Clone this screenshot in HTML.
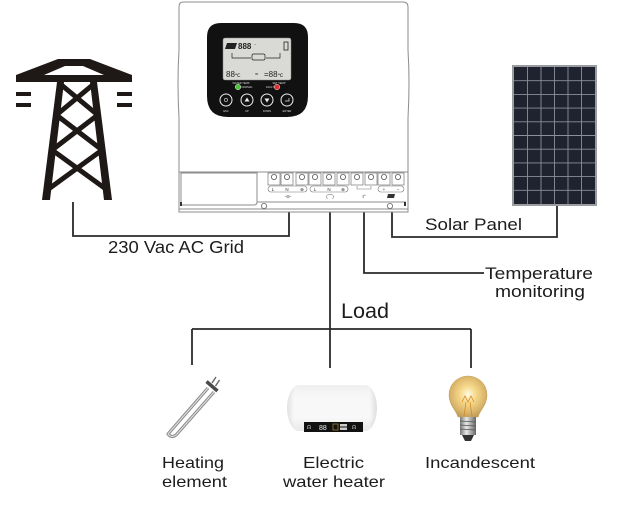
<!DOCTYPE html>
<html><head><meta charset="utf-8">
<style>
html,body{margin:0;padding:0;background:#fff;}
svg{display:block;}
text{font-family:"Liberation Sans",Arial,sans-serif;}
</style></head>
<body>
<svg width="633" height="516" viewBox="0 0 633 516" xmlns="http://www.w3.org/2000/svg">
<defs>
<radialGradient id="bulbG" cx="0.5" cy="0.45" r="0.6">
<stop offset="0" stop-color="#fffbe6"/>
<stop offset="0.35" stop-color="#f6d889"/>
<stop offset="0.75" stop-color="#d9b46a"/>
<stop offset="1" stop-color="#b89554"/>
</radialGradient>
<linearGradient id="baseG" x1="0" y1="0" x2="1" y2="0">
<stop offset="0" stop-color="#777"/>
<stop offset="0.4" stop-color="#e8e8e8"/>
<stop offset="1" stop-color="#666"/>
</linearGradient>
<linearGradient id="heatG" x1="0" y1="0" x2="0" y2="1">
<stop offset="0" stop-color="#e6e6e6"/>
<stop offset="0.25" stop-color="#fafafa"/>
<stop offset="0.7" stop-color="#ffffff"/>
<stop offset="1" stop-color="#d4d4d4"/>
</linearGradient>
<linearGradient id="heatH" x1="0" y1="0" x2="1" y2="0">
<stop offset="0" stop-color="#cfcfcf"/>
<stop offset="0.08" stop-color="#f5f5f5"/>
<stop offset="0.92" stop-color="#f5f5f5"/>
<stop offset="1" stop-color="#c8c8c8"/>
</linearGradient>
</defs>

<!-- ===== Tower ===== -->
<g fill="#1e1816">
<path fill-rule="evenodd" d="M58,59 L90,59 L132,75 L132,82 L16,82 L16,75 Z M65,66 L83,66 L104,75 L44,75 Z"/>
<polygon points="57,82 64,82 50,200 42,200"/>
<polygon points="90,82 97,82 112,200 104,200"/>
<rect x="16" y="92" width="15" height="4"/>
<rect x="16" y="103" width="15" height="4"/>
<rect x="117" y="92" width="15" height="4"/>
<rect x="117" y="103" width="15" height="4"/>
</g>
<g stroke="#1e1816" stroke-width="5" fill="none">
<line x1="60.3" y1="84" x2="97.7" y2="115"/>
<line x1="93.8" y1="84" x2="56.4" y2="115"/>
<line x1="56.4" y1="115" x2="102.1" y2="150"/>
<line x1="97.7" y1="115" x2="52.1" y2="150"/>
<line x1="52.1" y1="150" x2="107.2" y2="190"/>
<line x1="102.1" y1="150" x2="47.2" y2="190"/>
</g>

<!-- ===== Solar panel ===== -->
<rect x="512" y="65" width="85" height="141" fill="#9a9ca0"/>
<rect x="514" y="67" width="81" height="137" fill="#1f2330"/>
<g stroke="#8a8f9c" stroke-width="0.9">
<line x1="527.5" y1="67" x2="527.5" y2="204"/>
<line x1="541" y1="67" x2="541" y2="204"/>
<line x1="554.5" y1="67" x2="554.5" y2="204"/>
<line x1="568" y1="67" x2="568" y2="204"/>
<line x1="581.5" y1="67" x2="581.5" y2="204"/>
<line x1="514" y1="80.7" x2="595" y2="80.7"/>
<line x1="514" y1="94.4" x2="595" y2="94.4"/>
<line x1="514" y1="108.1" x2="595" y2="108.1"/>
<line x1="514" y1="121.8" x2="595" y2="121.8"/>
<line x1="514" y1="135.5" x2="595" y2="135.5"/>
<line x1="514" y1="149.2" x2="595" y2="149.2"/>
<line x1="514" y1="162.9" x2="595" y2="162.9"/>
<line x1="514" y1="176.6" x2="595" y2="176.6"/>
<line x1="514" y1="190.3" x2="595" y2="190.3"/>
</g>

<!-- ===== Connector lines ===== -->
<g stroke="#2a2a2a" stroke-width="1.8" fill="none">
<polyline points="73,202 73,236 289,236 289,212"/>
<line x1="330" y1="212" x2="330" y2="368"/>
<polyline points="364,212 364,273 484,273"/>
<polyline points="392,212 392,237 557,237 557,206"/>
<line x1="192" y1="329" x2="471" y2="329"/>
<line x1="192" y1="329" x2="192" y2="365"/>
<line x1="471" y1="329" x2="471" y2="368"/>
</g>

<!-- ===== Controller ===== -->
<g stroke="#8c8c8c" stroke-width="1" fill="#fff">
<path d="M183,2 L403,2 Q408,2 408,7 L408,50 Q410,82 408,118 L408,212 L179,212 L179,118 Q177,82 179,50 L179,7 Q179,2 183,2 Z"/>
<line x1="179" y1="172" x2="408" y2="172"/>
<path d="M181,173 L257,173 L257,202 Q257,205 254,205 L181,205 Z"/>
<line x1="257" y1="202" x2="406" y2="202"/>
<line x1="179" y1="209" x2="408" y2="209"/>
</g>
<circle cx="264" cy="206" r="2.6" fill="#fff" stroke="#666" stroke-width="0.8"/>
<circle cx="390" cy="206" r="2.6" fill="#fff" stroke="#666" stroke-width="0.8"/>
<rect x="180" y="202" width="2" height="4" fill="#333"/>
<rect x="404" y="202" width="2" height="4" fill="#333"/>

<!-- terminals -->
<g stroke="#777" stroke-width="0.7" fill="#fff">
<rect x="268" y="173" width="12" height="12"/>
<rect x="281" y="173" width="12" height="12"/>
<rect x="296" y="173" width="12" height="12"/>
<rect x="309" y="173" width="12" height="12"/>
<rect x="323" y="173" width="12" height="12"/>
<rect x="337" y="173" width="12" height="12"/>
<rect x="351" y="173" width="12" height="12"/>
<rect x="365" y="173" width="12" height="12"/>
<rect x="378" y="173" width="12" height="12"/>
<rect x="392" y="173" width="12" height="12"/>
</g>
<g stroke="#555" stroke-width="0.8" fill="#fff">
<circle cx="274" cy="177" r="2.6"/><circle cx="287" cy="177" r="2.6"/>
<circle cx="302" cy="177" r="2.6"/><circle cx="315" cy="177" r="2.6"/>
<circle cx="329" cy="177" r="2.6"/><circle cx="343" cy="177" r="2.6"/>
<circle cx="357" cy="177" r="2.6"/><circle cx="371" cy="177" r="2.6"/>
<circle cx="384" cy="177" r="2.6"/><circle cx="398" cy="177" r="2.6"/>
</g>
<g stroke="#777" stroke-width="0.6" fill="none">
<rect x="268" y="186" width="39" height="6" rx="3"/>
<rect x="310" y="186" width="38" height="6" rx="3"/>
<polyline points="357,186 357,189 371,189 371,186"/>
<rect x="378" y="186" width="26" height="6" rx="3"/>
</g>
<g font-size="4.5" fill="#333" text-anchor="middle">
<text x="273" y="191">L</text><text x="287" y="191">N</text><text x="302" y="191">⊕</text>
<text x="315" y="191">L</text><text x="329" y="191">N</text><text x="343" y="191">⊕</text>
<text x="384" y="191">+</text><text x="398" y="191">−</text>
<text x="288" y="198">-⊖-</text><text x="330" y="198">(⌒)</text>
<text x="364" y="198">ℓ°</text>
</g>
<polygon points="388,194 395,194 394,198 387,198" fill="#333"/>

<!-- display bezel -->
<path d="M221,23 L294,23 Q308,23 308,37 L308,96 Q308,117 287,117 L228,117 Q207,117 207,96 L207,37 Q207,23 221,23 Z" fill="#111"/>
<rect x="223" y="38" width="68" height="42" rx="2" fill="#d9d9d5" stroke="#888" stroke-width="0.5"/>
<polygon points="227,43 237,43 235,49 225,49" fill="#222"/>
<text x="238" y="49" font-size="8" font-weight="bold" fill="#222">888</text>
<text x="254" y="46" font-size="4" fill="#222">~</text>
<rect x="284" y="42" width="4" height="8" fill="none" stroke="#222" stroke-width="0.8"/>
<g stroke="#222" stroke-width="0.7" fill="none">
<polyline points="232,53 232,58 251,58"/>
<rect x="252" y="54" width="13" height="6" rx="1.5"/>
<polyline points="280,53 280,58 266,58"/>
</g>
<text x="226" y="77" font-size="8" fill="#222">88<tspan font-size="5">℃</tspan></text>
<text x="255" y="76" font-size="6" fill="#222">≈</text>
<text x="264" y="77" font-size="8" fill="#222">=88<tspan font-size="5">℃</tspan></text>
<g font-size="2.6" fill="#ddd" text-anchor="middle">
<text x="241" y="84">WATER TEMP</text><text x="279" y="84">SET TEMP</text>
<text x="247" y="88">NORMAL</text><text x="270" y="88">FAULT</text>
<text x="226" y="112">ESC</text><text x="247" y="112">UP</text>
<text x="267" y="112">DOWN</text><text x="287" y="112">ENTER</text>
</g>
<circle cx="238" cy="87" r="2.8" fill="#4bc43a" stroke="#ddd" stroke-width="0.5"/>
<circle cx="277" cy="87" r="2.8" fill="#e03030" stroke="#ddd" stroke-width="0.5"/>
<g stroke="#eee" stroke-width="1" fill="#111">
<circle cx="226" cy="100" r="6"/><circle cx="247" cy="100" r="6"/>
<circle cx="267" cy="100" r="6"/><circle cx="287" cy="100" r="6"/>
</g>
<g fill="#eee">
<polygon points="247,97.5 249.5,101.5 244.5,101.5"/>
<polygon points="267,102.5 269.5,98.5 264.5,98.5"/>
<circle cx="226" cy="100" r="1.6" fill="none" stroke="#eee" stroke-width="0.6"/>
<polyline points="289,98 289,101 285,101" fill="none" stroke="#eee" stroke-width="0.7"/>
</g>

<!-- ===== Heating element ===== -->
<path d="M214,392 L177,434 Q172,439 168,434 L208,388" fill="none" stroke="#8a8a8a" stroke-width="3.2" stroke-linejoin="round"/>
<path d="M214,392 L177,434 Q172,439 168,434 L208,388" fill="none" stroke="#dcdcdc" stroke-width="1.2"/>
<line x1="206.5" y1="381.5" x2="217.5" y2="391" stroke="#4a4a4a" stroke-width="3.5"/>
<line x1="212" y1="383" x2="216" y2="377" stroke="#666" stroke-width="1.4"/>
<line x1="215.5" y1="386" x2="219.5" y2="380" stroke="#666" stroke-width="1.4"/>

<!-- ===== Water heater ===== -->
<rect x="287" y="385" width="90" height="46" rx="12" ry="23" fill="url(#heatG)"/>
<rect x="287" y="385" width="90" height="46" rx="12" ry="23" fill="url(#heatH)" opacity="0.6"/>
<rect x="304" y="422" width="59" height="10" fill="#111"/>
<g font-size="5" fill="#ddd">
<text x="307" y="429">ᗣ</text>
<text x="319" y="430" font-size="7" fill="#f0f0f0">88</text>
<rect x="333" y="424" width="5" height="6" fill="none" stroke="#c8a040" stroke-width="0.6"/>
<rect x="340" y="424" width="7" height="2.5" fill="#ccc"/>
<rect x="340" y="427.5" width="7" height="2.5" fill="#ccc"/>
<text x="352" y="429">ᗣ</text>
</g>

<!-- ===== Bulb ===== -->
<path d="M458,417 C456,410 449,405 449,395 A19,19 0 1 1 487,395 C487,405 480,410 478,417 Z" fill="url(#bulbG)" stroke="#c9a560" stroke-width="0.6"/>
<g stroke="#d88a20" stroke-width="0.8" fill="none">
<path d="M462,402 L465,396 L468,402 L471,396 L474,402"/>
<line x1="466" y1="402" x2="464" y2="416"/>
<line x1="470" y1="402" x2="472" y2="416"/>
</g>
<rect x="460" y="417" width="16" height="18" fill="url(#baseG)"/>
<g stroke="#555" stroke-width="0.8">
<line x1="460" y1="421" x2="476" y2="422"/>
<line x1="460" y1="425" x2="476" y2="426"/>
<line x1="460" y1="429" x2="476" y2="430"/>
</g>
<path d="M462,435 L474,435 L471,441 L465,441 Z" fill="#333"/>

<!-- ===== Labels ===== -->
<g fill="#1c1c1c">
<text x="108" y="253" font-size="17.5" textLength="136" lengthAdjust="spacingAndGlyphs">230 Vac AC Grid</text>
<text x="425" y="230" font-size="16.5" textLength="97" lengthAdjust="spacingAndGlyphs">Solar Panel</text>
<text x="485" y="279" font-size="16.5" textLength="108" lengthAdjust="spacingAndGlyphs">Temperature</text>
<text x="495" y="297" font-size="16.5" textLength="90" lengthAdjust="spacingAndGlyphs">monitoring</text>
<text x="341" y="318" font-size="21" textLength="48" lengthAdjust="spacingAndGlyphs">Load</text>
<text x="162" y="468" font-size="16" textLength="62" lengthAdjust="spacingAndGlyphs">Heating</text>
<text x="162" y="487" font-size="16" textLength="65" lengthAdjust="spacingAndGlyphs">element</text>
<text x="303" y="468" font-size="16" textLength="61" lengthAdjust="spacingAndGlyphs">Electric</text>
<text x="283" y="487" font-size="16" textLength="102" lengthAdjust="spacingAndGlyphs">water heater</text>
<text x="425" y="468" font-size="16" textLength="110" lengthAdjust="spacingAndGlyphs">Incandescent</text>
</g>
</svg>
</body></html>
